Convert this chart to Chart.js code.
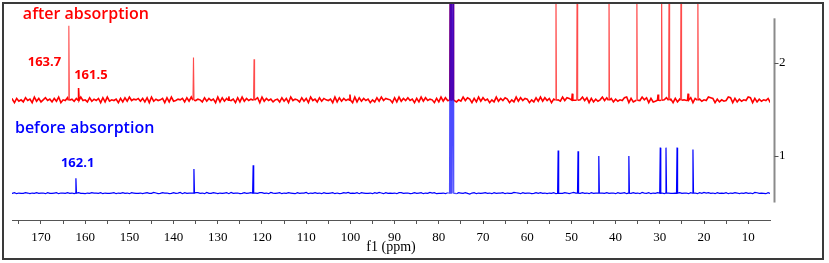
<!DOCTYPE html>
<html>
<head>
<meta charset="utf-8">
<script src="https://cdn.jsdelivr.net/npm/chart.js@4.4.1/dist/chart.umd.min.js"></script>
<style>
  html, body { margin: 0; padding: 0; background: #fff; }
  canvas { display: block; }
</style>
</head>
<body>
<canvas id="nmr" width="829" height="263"></canvas>
<script>
// 13C spectra before / after absorption, shift in ppm, intensity on the right scale
const redBase = 1.6;
const blueBase = 0.6;

const redPeaks = [163.7, 161.5, 135.5, 127.5, 121.8, 100.1, 77.45, 77.1, 76.75, 53.5, 49.8, 48.7, 41.5, 35.2, 30.4, 29.6, 27.9, 25.2, 23.6, 21.4];
const redHeights = [2.40, 1.73, 2.06, 1.64, 2.04, 1.66, 3, 3, 3, 3, 1.67, 3, 3, 3, 1.66, 3, 3, 3, 1.67, 3];

const bluePeaks = [162.1, 135.4, 122.0, 77.45, 77.1, 76.75, 53.0, 48.5, 43.8, 37.0, 29.9, 28.6, 26.1, 22.5];
const blueHeights = [0.76, 0.86, 0.90, 3, 3, 3, 1.06, 1.05, 1.00, 1.00, 1.09, 1.09, 1.09, 1.07];

// baseline noise, one digit per 0.5 ppm going down from 177 ppm (4.5 = on the baseline)
const redNoise =
  "461735284619372584627391548263719452836471829354617283946573" +
  "728193645718293465728391465283746192837546182937465281937462" +
  "562837194652837194628375461928374651928374615283947651829374" +
  "846172938465172938461725394861729384615293748615293847615283" +
  "938471625394871263594817263594817263548917263495817236495826" +
  "172635498172635498716253498172635498172635471829364518273645";
const blueNoise =
  "546354465354645536445635546453564435465546354456354645365445" +
  "356447534655346457364553664537446535456374553464563546645375" +
  "456354654364557354645364456353465745463654453647536454536645" +
  "534645635475634453654536546425635456453645563544765364553464" +
  "645354635446535753464536456354645536456354645375463546453654" +
  "453645536453647564536454635465354645376454364563546453546453";

const xLabels = [170, 160, 150, 140, 130, 120, 110, 100, 90, 80, 70, 60, 50, 40, 30, 20, 10];
const yTicks = [1, 2];

const notes = [
  { text: "after absorption", ppm: 174.1, val: 2.52, color: "#ff0000", font: "600 16px 'Open Sans'" },
  { text: "before absorption", ppm: 175.9, val: 1.30, color: "#0000ff", font: "600 16px 'Open Sans'" },
  { text: "163.7", ppm: 173.0, val: 2.01, color: "#ff0000", font: "bold 13px 'Open Sans'" },
  { text: "161.5", ppm: 162.5, val: 1.87, color: "#ff0000", font: "bold 13px 'Open Sans'" },
  { text: "162.1", ppm: 165.5, val: 0.92, color: "#0000ff", font: "bold 13px 'Open Sans'" },
];

function buildSpectrum(base, noise, amp, peaks, heights) {
  const pts = [];
  for (let i = 0; i < noise.length; i++) {
    const x = 177 - i * 0.5;
    if (x < 5) break;
    if (peaks.some((p) => Math.abs(p - x) < 0.3)) continue;
    pts.push({ x: x, y: base + (Number(noise[i]) - 4.5) * amp });
  }
  peaks.forEach((p, i) => {
    pts.push({ x: p + 0.12, y: base }, { x: p, y: heights[i] }, { x: p - 0.12, y: base });
  });
  return pts.sort((a, b) => b.x - a.x);
}

const inSolvent = (v) => v > 76.4 && v < 77.8;
const isSpike = (c) => Math.abs(c.p1.parsed.y - c.p0.parsed.y) > 0.2;

const decor = {
  id: "decor",
  afterDraw(chart) {
    const { ctx } = chart;
    const x = chart.scales.x;
    const y = chart.scales.y;
    ctx.save();
    // outer frame
    ctx.strokeStyle = "#3a3a3a";
    ctx.lineWidth = 2;
    ctx.strokeRect(3, 3, 820, 256);
    // right intensity axis
    const ax = x.right + 4.5;
    ctx.strokeStyle = "#8a8a8a";
    ctx.lineWidth = 2;
    ctx.beginPath();
    ctx.moveTo(ax, y.getPixelForValue(0.5));
    ctx.lineTo(ax, y.getPixelForValue(2.48));
    ctx.stroke();
    ctx.lineWidth = 1;
    ctx.strokeStyle = "#555";
    yTicks.forEach((v) => {
      const py = Math.round(y.getPixelForValue(v)) + 0.5;
      ctx.beginPath();
      ctx.moveTo(ax, py);
      ctx.lineTo(ax + 4, py);
      ctx.stroke();
    });
    // peak annotations
    ctx.textBaseline = "middle";
    ctx.textAlign = "left";
    notes.forEach((n) => {
      ctx.font = n.font;
      ctx.fillStyle = n.color;
      ctx.fillText(n.text, x.getPixelForValue(n.ppm), y.getPixelForValue(n.val));
    });
    ctx.restore();
  },
};

new Chart(document.getElementById("nmr"), {
  type: "line",
  data: {
    datasets: [
      {
        label: "before absorption",
        data: buildSpectrum(blueBase, blueNoise, 0.0035, bluePeaks, blueHeights),
        borderColor: "#0000ff",
        borderWidth: 1.2,
        pointRadius: 0,
        order: 0,
        segment: {
          borderColor: (c) =>
            inSolvent(c.p0.parsed.x) || inSolvent(c.p1.parsed.x) ? "rgba(0,0,255,0.7)" : undefined,
        },
      },
      {
        label: "after absorption",
        data: buildSpectrum(redBase, redNoise, 0.0075, redPeaks, redHeights),
        borderColor: "#ff0000",
        borderWidth: 1.6,
        pointRadius: 0,
        order: 1,
        segment: {
          borderWidth: (c) => (isSpike(c) ? 1.1 : undefined),
          borderColor: (c) =>
            isSpike(c) && !inSolvent(c.p0.parsed.x) ? "rgba(255,30,30,0.8)" : undefined,
        },
      },
    ],
  },
  options: {
    responsive: false,
    devicePixelRatio: 1,
    animation: false,
    layout: { padding: { left: 12, top: 4, right: 35, bottom: 3 } },
    plugins: { legend: { display: false }, tooltip: { enabled: false } },
    scales: {
      x: {
        type: "linear",
        reverse: true,
        min: 5.07,
        max: 176.56,
        grid: { drawOnChartArea: false, tickLength: 4, color: "#555" },
        border: { color: "#555", width: 1 },
        ticks: {
          stepSize: 5,
          includeBounds: false,
          autoSkip: false,
          maxRotation: 0,
          padding: 6,
          color: "#000",
          font: { family: "'Liberation Serif'", size: 13 },
          callback: (v) => (xLabels.includes(v) ? String(v) : ""),
        },
        title: {
          display: true,
          text: "f1 (ppm)",
          color: "#000",
          font: { family: "'Liberation Serif'", size: 14 },
          padding: { top: 0, bottom: 4 },
        },
        afterFit: (s) => {
          s.height = 40;
          s.paddingLeft = 0;
          s.paddingRight = 0;
        },
      },
      y: {
        position: "right",
        min: 0.312,
        max: 2.634,
        grid: { display: false, drawTicks: false },
        border: { display: false },
        ticks: {
          padding: 9,
          color: "#000",
          font: { family: "'Liberation Serif'", size: 13 },
        },
        afterBuildTicks: (s) => {
          s.ticks = yTicks.map((v) => ({ value: v }));
        },
        afterFit: (s) => {
          s.width = 24;
          s.paddingTop = 0;
          s.paddingBottom = 0;
        },
      },
    },
  },
  plugins: [decor],
});
</script>
</body>
</html>
